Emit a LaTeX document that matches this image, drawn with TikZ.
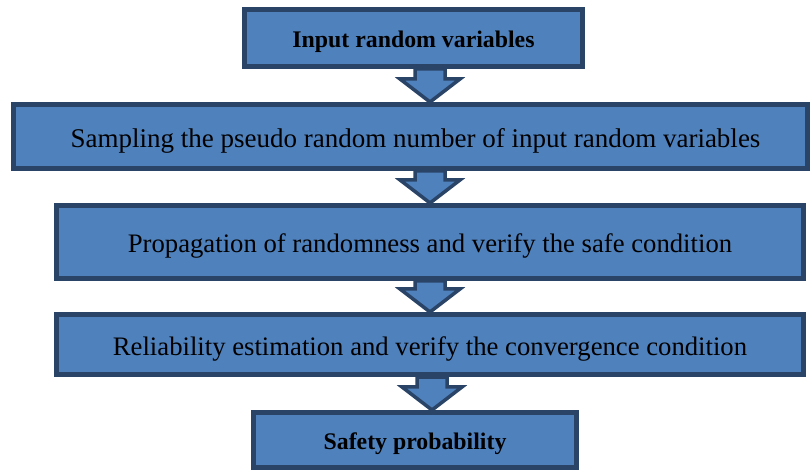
\documentclass[tikz,border=0pt]{standalone}
\usepackage{fontspec}
\setmainfont{Liberation Serif}
\usetikzlibrary{calc}
\definecolor{boxfill}{HTML}{4F81BD}
\definecolor{boxline}{HTML}{2A4468}
\tikzset{
  flowbox/.style={draw=boxline, fill=boxfill, line width=5bp, rectangle, inner sep=0pt, text=black, align=center},
  blockarrow/.style={draw=boxline, fill=boxfill, line width=3.5bp, line join=miter},
}
\newcommand\flowarrow[3]{%
  \path[blockarrow] let \p1=(#1.south), \p2=(#2.north) in
    ({#3bp-15bp},\y1) -- ({#3bp+15bp},\y1) -- ({#3bp+15bp},{\y2+23bp}) -- ({#3bp+30bp},{\y2+23bp})
    -- ({#3bp},\y2) -- ({#3bp-30bp},{\y2+23bp}) -- ({#3bp-15bp},{\y2+23bp}) -- cycle;}
\newcommand\lowered[1]{\raisebox{-4bp}[\height][\depth]{#1}}
\begin{document}
\begin{tikzpicture}[x=1bp,y=-1bp]
\useasboundingbox (0,0) rectangle (811,472);
\node[flowbox, minimum width=338bp, minimum height=57bp] (b1) at (413.5,38)
  {\lowered{\fontsize{23.9}{28}\selectfont\bfseries Input random variables}};
\node[flowbox, minimum width=794bp, minimum height=64bp] (b2) at (410.5,136.5)
  {\lowered{\fontsize{27.1}{32}\selectfont\hspace*{10bp}Sampling the pseudo random number of input random variables}};
\node[flowbox, minimum width=747bp, minimum height=73bp] (b3) at (430,242)
  {\lowered{\fontsize{26.8}{31}\selectfont Propagation of randomness and verify the safe condition}};
\node[flowbox, minimum width=747bp, minimum height=60bp] (b4) at (430,344.5)
  {\lowered{\fontsize{26.8}{31}\selectfont Reliability estimation and verify the convergence condition}};
\node[flowbox, minimum width=323bp, minimum height=55bp] (b5) at (415,440)
  {\lowered{\fontsize{23.9}{28}\selectfont\bfseries Safety probability}};
\flowarrow{b1}{b2}{430}
\flowarrow{b2}{b3}{430}
\flowarrow{b3}{b4}{430}
\flowarrow{b4}{b5}{432}
\end{tikzpicture}
\end{document}
